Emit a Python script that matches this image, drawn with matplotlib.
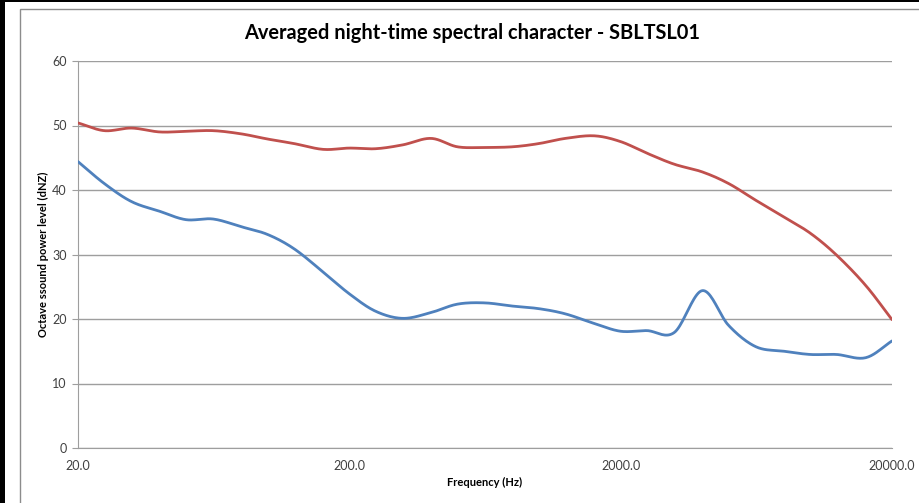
import numpy as np
import matplotlib
matplotlib.use("Agg")
import matplotlib.pyplot as plt
from matplotlib.patches import Rectangle

# 1/3-octave band centre frequencies (Hz)
freqs = [20, 25, 31.5, 40, 50, 63, 80, 100, 125, 160, 200, 250, 315, 400, 500,
         630, 800, 1000, 1250, 1600, 2000, 2500, 3150, 4000, 5000, 6300, 8000,
         10000, 12500, 16000, 20000]

# upper (red) series
level_red = [50.4, 49.2, 49.6, 49.0, 49.1, 49.2, 48.7, 47.9, 47.2, 46.3, 46.5,
             46.4, 47.0, 48.0, 46.7, 46.6, 46.7, 47.2, 48.0, 48.4, 47.5, 45.7,
             44.0, 42.8, 41.0, 38.4, 35.8, 33.3, 29.9, 25.2, 19.9]

# lower (blue) series
level_blue = [44.4, 41.0, 38.2, 36.7, 35.4, 35.5, 34.3, 33.1, 30.9, 27.3, 23.9,
              21.2, 20.1, 21.0, 22.3, 22.5, 22.0, 21.6, 20.8, 19.3, 18.1, 18.2,
              17.9, 24.4, 19.0, 15.7, 15.0, 14.5, 14.5, 14.0, 16.6]

xtick_vals = [20, 200, 2000, 20000]
xtick_labels = ["20.0", "200.0", "2000.0", "20000.0"]
ytick_vals = [0, 10, 20, 30, 40, 50, 60]


def smooth(xs, ys, n=20):
    # Catmull-Rom spline in log-frequency space, like Excel's "smoothed line"
    lx = np.log10(np.asarray(xs, dtype=float))
    y = np.asarray(ys, dtype=float)
    px = np.concatenate([[2 * lx[0] - lx[1]], lx, [2 * lx[-1] - lx[-2]]])
    py = np.concatenate([[2 * y[0] - y[1]], y, [2 * y[-1] - y[-2]]])
    out_x, out_y = [], []
    t = np.linspace(0, 1, n, endpoint=False)
    for i in range(1, len(px) - 2):
        for arr, out in ((px, out_x), (py, out_y)):
            p0, p1, p2, p3 = arr[i - 1], arr[i], arr[i + 1], arr[i + 2]
            out.extend(0.5 * ((2 * p1) + (-p0 + p2) * t
                              + (2 * p0 - 5 * p1 + 4 * p2 - p3) * t ** 2
                              + (-p0 + 3 * p1 - 3 * p2 + p3) * t ** 3))
    out_x.append(lx[-1])
    out_y.append(y[-1])
    return 10 ** np.array(out_x), np.array(out_y)


plt.rcParams['font.family'] = ['Lato', 'DejaVu Sans']

fig = plt.figure(figsize=(9.2, 5.03), dpi=100)
W, H = 920, 503

# screenshot frame: black edge on left/top, grey chart border
fig.patches.append(Rectangle((0, 0), 5 / W, 1, transform=fig.transFigure,
                             facecolor='black', edgecolor='none'))
fig.patches.append(Rectangle((0, 1 - 2 / H), 1, 2 / H, transform=fig.transFigure,
                             facecolor='black', edgecolor='none'))
fig.patches.append(Rectangle((20 / W, -0.05), 1.2, 1 - 9 / H + 0.05,
                             transform=fig.transFigure, facecolor='none',
                             edgecolor='#8c8c8c', linewidth=1.0))

ax = fig.add_axes([78 / W, (H - 448) / H, (892 - 78) / W, (448 - 61) / H])

xr, yr = smooth(freqs, level_red)
xb, yb = smooth(freqs, level_blue)
ax.plot(xr, yr, color='#c0504d', linewidth=2.0, solid_capstyle='round', zorder=3)
ax.plot(xb, yb, color='#4f81bd', linewidth=2.0, solid_capstyle='round', zorder=3)

ax.set_xscale('log')
ax.set_xlim(20, 20000)
ax.set_ylim(0, 60)
ax.set_xticks(xtick_vals)
ax.set_xticklabels(xtick_labels)
ax.xaxis.set_minor_locator(matplotlib.ticker.NullLocator())
ax.set_yticks(ytick_vals)

ax.grid(axis='y', color='#9e9e9e', linewidth=1.0)
ax.set_axisbelow(True)
for side in ['top', 'right']:
    ax.spines[side].set_visible(False)
ax.spines['left'].set_color('#9e9e9e')
ax.spines['bottom'].set_color('#9e9e9e')

ax.tick_params(axis='y', length=4, color='#9e9e9e', labelsize=9,
               labelcolor='#404040', pad=4)
ax.tick_params(axis='x', length=0, labelsize=9, labelcolor='#404040', pad=9)

ax.set_xlabel('Frequency (Hz)', fontsize=8, fontweight='bold', labelpad=3)
ax.set_ylabel('Octave ssound power level (dNZ)', fontsize=8, fontweight='bold',
              labelpad=2)

fig.text(472 / W, 1 - 33 / H, 'Averaged night-time spectral character - SBLTSL01',
         ha='center', va='center', fontsize=14.4, fontweight='bold')

fig.savefig('out.png', dpi=100)
